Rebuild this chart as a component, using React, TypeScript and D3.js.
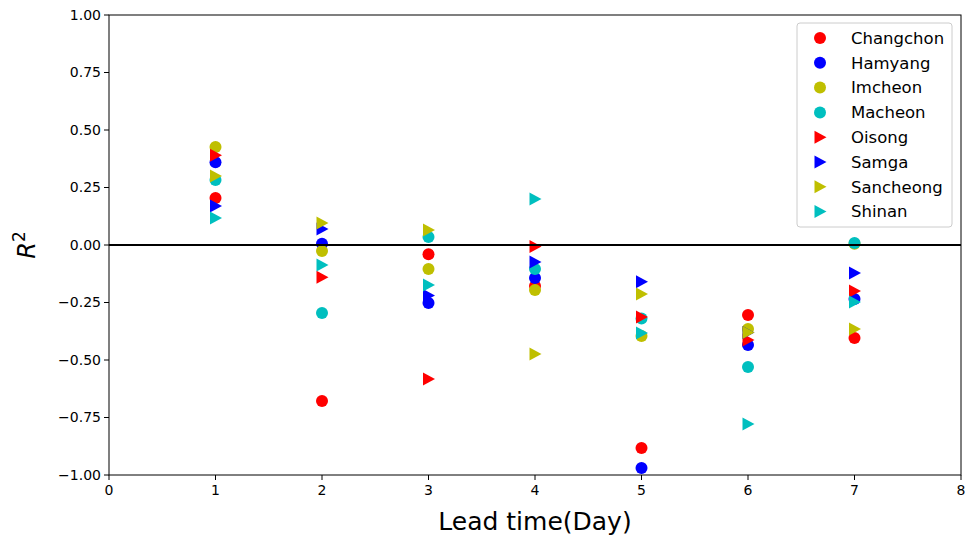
import React from "react";
import * as d3 from "d3";

const leadDays = [1, 2, 3, 4, 5, 6, 7];
const changchon = [0.204, -0.678, -0.04, -0.178, -0.883, -0.304, -0.404];
const hamyang = [0.36, 0.005, -0.252, -0.143, -0.97, -0.435, -0.235];
const imcheon = [0.426, -0.026, -0.104, -0.196, -0.396, -0.365, 0.005];
const macheon = [0.283, -0.296, 0.035, -0.104, -0.32, -0.53, 0.009];
const oisong = [0.39, -0.14, -0.583, -0.006, -0.313, -0.413, -0.2];
const samga = [0.17, 0.07, -0.22, -0.074, -0.16, -0.38, -0.122];
const sancheong = [0.3, 0.096, 0.065, -0.474, -0.213, -0.38, -0.365];
const shinan = [0.117, -0.087, -0.174, 0.2, -0.383, -0.778, -0.248];

const series = [
  { name: "Changchon", values: changchon, color: "#ff0000", shape: "circle" },
  { name: "Hamyang", values: hamyang, color: "#0000ff", shape: "circle" },
  { name: "Imcheon", values: imcheon, color: "#bfbf00", shape: "circle" },
  { name: "Macheon", values: macheon, color: "#00bfbf", shape: "circle" },
  { name: "Oisong", values: oisong, color: "#ff0000", shape: "tri" },
  { name: "Samga", values: samga, color: "#0000ff", shape: "tri" },
  { name: "Sancheong", values: sancheong, color: "#bfbf00", shape: "tri" },
  { name: "Shinan", values: shinan, color: "#00bfbf", shape: "tri" },
];

const xTicks = [0, 1, 2, 3, 4, 5, 6, 7, 8];
const yTicks = [-1, -0.75, -0.5, -0.25, 0, 0.25, 0.5, 0.75, 1];

const W = 965, H = 536;
const L = 109, T = 15, R = 961, B = 475;
const font = "DejaVu Sans, sans-serif";

function Marker({ shape, x, y, color }: { shape: string; x: number; y: number; color: string }) {
  if (shape === "circle") return <circle cx={x} cy={y} r={6} fill={color} />;
  const s = 6.5;
  return <path d={`M${x - s * 0.85},${y - s} L${x + s * 1.0},${y} L${x - s * 0.85},${y + s} Z`} fill={color} />;
}

export default function App() {
  const x = d3.scaleLinear().domain([0, 8]).range([L, R]);
  const y = d3.scaleLinear().domain([-1, 1]).range([B, T]);
  const fmt = (v: number) => d3.format(".2f")(v).replace("-", "\u2212");
  const legendY = (i: number) => 38 + i * 24.8;
  return (
    <svg width={W} height={H} style={{ position: "absolute", left: 0, top: 0, fontFamily: font }}>
      <rect width={W} height={H} fill="#fff" />
      {series.map((s) => (
        <g key={s.name}>
          {s.values.map((v, i) =>
            isNaN(v) ? null : <Marker key={i} shape={s.shape} x={x(leadDays[i])} y={y(v)} color={s.color} />
          )}
        </g>
      ))}
      <line x1={L} x2={R} y1={y(0)} y2={y(0)} stroke="#000" strokeWidth={2} />
      <rect x={L} y={T} width={R - L} height={B - T} fill="none" stroke="#000" strokeWidth={1} />
      {xTicks.map((t) => (
        <g key={t}>
          <line x1={x(t)} x2={x(t)} y1={B} y2={B + 5} stroke="#000" />
          <text x={x(t)} y={B + 20} textAnchor="middle" fontSize={14} fill="#000">{t}</text>
        </g>
      ))}
      {yTicks.map((t) => (
        <g key={t}>
          <line x1={L - 5} x2={L} y1={y(t)} y2={y(t)} stroke="#000" />
          <text x={L - 8} y={y(t)} dy="0.35em" textAnchor="end" fontSize={14} fill="#000">{fmt(t)}</text>
        </g>
      ))}
      <text x={(L + R) / 2} y={530} textAnchor="middle" fontSize={25} fill="#000">Lead time(Day)</text>
      <text transform={`translate(35,${y(0)}) rotate(-90)`} textAnchor="middle" fontSize={24} fill="#000">
        <tspan fontStyle="italic">R</tspan>
        <tspan dy={-10} fontSize={17}>2</tspan>
      </text>
      <rect x={797} y={23} width={155} height={204} rx={3} fill="#fff" fillOpacity={0.8} stroke="#cccccc" />
      {series.map((s, i) => (
        <g key={s.name}>
          <Marker shape={s.shape} x={820} y={legendY(i)} color={s.color} />
          <text x={851} y={legendY(i)} dy="0.35em" fontSize={16.5} fill="#000">{s.name}</text>
        </g>
      ))}
    </svg>
  );
}
